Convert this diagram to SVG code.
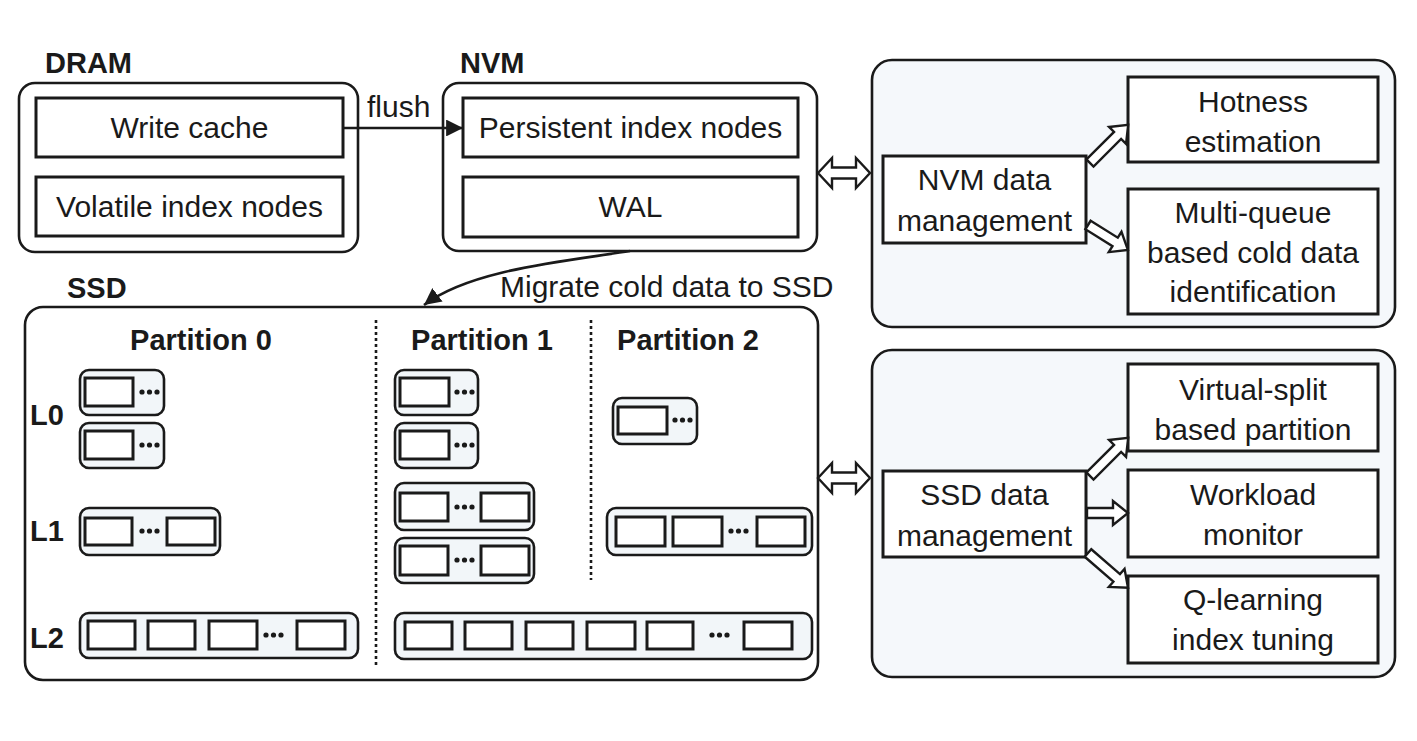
<svg xmlns="http://www.w3.org/2000/svg" width="1417" height="741" viewBox="0 0 1417 741">
<style>
text{font-family:"Liberation Sans",Arial,sans-serif;fill:#1a1a1a}
.t{font-size:30px;text-anchor:middle}
.b{font-size:29px;font-weight:bold}
.bc{font-size:29px;font-weight:bold;text-anchor:middle}
.outer{fill:#ffffff;stroke:#1a1a1a;stroke-width:2.6}
.panel{fill:#f5f8fb;stroke:#1a1a1a;stroke-width:2.6}
.box{fill:#ffffff;stroke:#1a1a1a;stroke-width:3}
.blk{fill:#f2f6f9;stroke:#1a1a1a;stroke-width:2.6}
.cell{fill:#ffffff;stroke:#1a1a1a;stroke-width:3}
.hol{fill:#ffffff;stroke:#1a1a1a;stroke-width:2.4;stroke-linejoin:miter}
.dl{stroke:#1a1a1a;stroke-width:2.6;stroke-dasharray:3 3;fill:none}
.ln{stroke:#1a1a1a;stroke-width:2.6;fill:none}
.dot{fill:#1a1a1a}
</style>
<defs>
<marker id="ah" viewBox="0 0 10 10" refX="10" refY="5" markerWidth="6.5" markerHeight="6.5" orient="auto" markerUnits="strokeWidth">
<path d="M0,0 L10,5 L0,10 Z" fill="#1a1a1a"/>
</marker>
<g id="dots3"><circle cx="0" cy="0" r="2.6"/><circle cx="7.5" cy="0" r="2.6"/><circle cx="15" cy="0" r="2.6"/></g>
</defs>
<rect width="1417" height="741" fill="#ffffff"/>

<g id="dram">
<text class="b" x="45" y="73">DRAM</text>
<rect class="outer" x="19" y="83" width="339" height="169" rx="16"/>
<rect class="box" x="36" y="98" width="307" height="59"/>
<text class="t" x="189.5" y="138">Write cache</text>
<rect class="box" x="36" y="177" width="307" height="59"/>
<text class="t" x="189.5" y="217">Volatile index nodes</text>
</g>

<g id="nvm">
<text class="b" x="460" y="73">NVM</text>
<rect class="outer" x="443" y="83" width="374" height="168" rx="16"/>
<rect class="box" x="463" y="98" width="335" height="59"/>
<text class="t" x="630.5" y="138">Persistent index nodes</text>
<rect class="box" x="463" y="177" width="335" height="60"/>
<text class="t" x="630.5" y="217">WAL</text>
</g>

<g id="ssd">
<text class="b" x="67" y="298">SSD</text>
<rect class="outer" x="25" y="307" width="793" height="373" rx="18"/>
<text class="bc" x="201" y="350">Partition 0</text>
<text class="bc" x="482" y="350">Partition 1</text>
<text class="bc" x="688" y="350">Partition 2</text>
<line class="dl" x1="376" y1="320" x2="376" y2="665"/>
<line class="dl" x1="591" y1="320" x2="591" y2="580"/>
<text class="b" x="30" y="425">L0</text>
<text class="b" x="30" y="541">L1</text>
<text class="b" x="30" y="648">L2</text>

<g class="dot">
<rect class="blk" x="80" y="370" width="84" height="45" rx="9"/>
<rect class="cell" x="85" y="378" width="48" height="28"/>
<use href="#dots3" x="142" y="392"/>
<rect class="blk" x="80" y="423" width="84" height="45" rx="9"/>
<rect class="cell" x="85" y="431" width="48" height="28"/>
<use href="#dots3" x="142" y="445"/>
<rect class="blk" x="80" y="508" width="140" height="47" rx="9"/>
<rect class="cell" x="85" y="518" width="47" height="27"/>
<rect class="cell" x="167" y="518" width="48" height="27"/>
<use href="#dots3" x="142" y="531"/>
<rect class="blk" x="80" y="613" width="278" height="45" rx="9"/>
<rect class="cell" x="88" y="621" width="47" height="28"/>
<rect class="cell" x="148" y="621" width="47" height="28"/>
<rect class="cell" x="209" y="621" width="48" height="28"/>
<rect class="cell" x="297" y="621" width="48" height="28"/>
<use href="#dots3" x="266" y="635"/>

<rect class="blk" x="395" y="370" width="83" height="45" rx="9"/>
<rect class="cell" x="400" y="378" width="49" height="28"/>
<use href="#dots3" x="457" y="392"/>
<rect class="blk" x="395" y="423" width="83" height="45" rx="9"/>
<rect class="cell" x="400" y="431" width="49" height="28"/>
<use href="#dots3" x="457" y="445"/>
<rect class="blk" x="395" y="483" width="139" height="47" rx="9"/>
<rect class="cell" x="400" y="493" width="48" height="28"/>
<rect class="cell" x="481" y="493" width="48" height="28"/>
<use href="#dots3" x="457" y="507"/>
<rect class="blk" x="395" y="538" width="139" height="45" rx="9"/>
<rect class="cell" x="400" y="546" width="48" height="29"/>
<rect class="cell" x="481" y="546" width="48" height="29"/>
<use href="#dots3" x="457" y="560"/>

<rect class="blk" x="613" y="398" width="84" height="46" rx="9"/>
<rect class="cell" x="618" y="407" width="49" height="27"/>
<use href="#dots3" x="675" y="420"/>
<rect class="blk" x="607" y="508" width="205" height="47" rx="9"/>
<rect class="cell" x="616" y="517" width="49" height="29"/>
<rect class="cell" x="673" y="517" width="49" height="29"/>
<rect class="cell" x="757" y="517" width="48" height="29"/>
<use href="#dots3" x="731" y="531"/>

<rect class="blk" x="395" y="613" width="417" height="46" rx="9"/>
<rect class="cell" x="405" y="622" width="47" height="27"/>
<rect class="cell" x="465" y="622" width="47" height="27"/>
<rect class="cell" x="526" y="622" width="47" height="27"/>
<rect class="cell" x="587" y="622" width="48" height="27"/>
<rect class="cell" x="647" y="622" width="46" height="27"/>
<rect class="cell" x="744" y="622" width="48" height="27"/>
<use href="#dots3" x="712" y="635"/>
</g>
</g>

<g id="nvm-mgmt">
<rect class="panel" x="872" y="60" width="523" height="267" rx="20"/>
<rect class="box" x="883" y="156" width="203" height="87"/>
<text class="t" x="984.5" y="190">NVM data</text>
<text class="t" x="984.5" y="231">management</text>
<rect class="box" x="1128" y="77" width="250" height="85"/>
<text class="t" x="1253" y="112">Hotness</text>
<text class="t" x="1253" y="152">estimation</text>
<rect class="box" x="1128" y="189" width="250" height="125"/>
<text class="t" x="1253" y="223">Multi-queue</text>
<text class="t" x="1253" y="263">based cold data</text>
<text class="t" x="1253" y="302">identification</text>
</g>

<g id="ssd-mgmt">
<rect class="panel" x="872" y="350" width="523" height="327" rx="20"/>
<rect class="box" x="883" y="471" width="203" height="86"/>
<text class="t" x="984.5" y="505">SSD data</text>
<text class="t" x="984.5" y="546">management</text>
<rect class="box" x="1128" y="364" width="250" height="87"/>
<text class="t" x="1253" y="400">Virtual-split</text>
<text class="t" x="1253" y="440">based partition</text>
<rect class="box" x="1128" y="470" width="250" height="87"/>
<text class="t" x="1253" y="505">Workload</text>
<text class="t" x="1253" y="545">monitor</text>
<rect class="box" x="1128" y="576" width="250" height="87"/>
<text class="t" x="1253" y="610">Q-learning</text>
<text class="t" x="1253" y="650">index tuning</text>
</g>

<g id="connectors">
<line class="ln" x1="343" y1="128" x2="463" y2="128" marker-end="url(#ah)"/>
<text x="367" y="117" style="font-size:30px">flush</text>
<path class="ln" d="M630,251 C560,262 470,270 424,305" marker-end="url(#ah)"/>
<text x="500" y="297" style="font-size:30px">Migrate cold data to SSD</text>
<polygon class="hol" points="818,173 832,158 832,167.5 856,167.5 856,158 870,173 856,188 856,178.5 832,178.5 832,188"/>
<polygon class="hol" points="818,478 832,463 832,472.5 856,472.5 856,463 870,478 856,493 856,483.5 832,483.5 832,493"/>
<polygon class="hol" transform="translate(1090,163) rotate(-45)" points="0,-5 39,-5 39,-12 54,0 39,12 39,5 0,5"/>
<polygon class="hol" transform="translate(1088,225) rotate(32)" points="0,-5 32,-5 32,-12 47,0 32,12 32,5 0,5"/>
<polygon class="hol" transform="translate(1090,476) rotate(-45)" points="0,-5 39,-5 39,-12 54,0 39,12 39,5 0,5"/>
<polygon class="hol" transform="translate(1087,513)" points="0,-5 26,-5 26,-12 41,0 26,12 26,5 0,5"/>
<polygon class="hol" transform="translate(1088,553) rotate(41)" points="0,-5 38,-5 38,-12 53,0 38,12 38,5 0,5"/>
</g>
</svg>
